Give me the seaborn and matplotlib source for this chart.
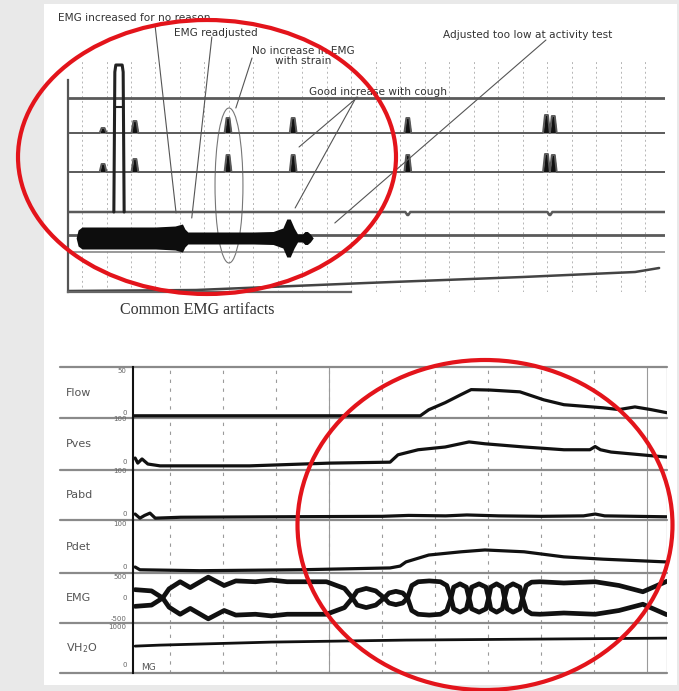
import numpy as np
import pandas as pd
import matplotlib
matplotlib.use("Agg")
import matplotlib.pyplot as plt
import seaborn as sns
from matplotlib.patches import Ellipse, Rectangle
import matplotlib.transforms as mtransforms

# ---------------- data ----------------
# upper tracing ("Common EMG artifacts"), time in s
spike_t = [4.3, 10.8, 29.8, 43.1, 66.5, 94.8, 96.2]
spike_h_ch2 = [5, 12, 15, 15, 15, 18, 17]
spike_h_ch3 = [8, 13, 17, 17, 17, 18, 17]
dip_t = [66.5, 95.5]
dip_h = [-3, -3]
artifact_t = [6.5, 6.7, 6.9, 8.2, 8.4, 8.6]
artifact_v = [0, 140, 147, 147, 140, 0]
artifact_bar_t = [6.7, 8.4]
artifact_bar_v = [105, 105]
blob_t = [-1.2, -0.8, 0, 5, 10, 15, 19, 20.5, 21.0, 21.6, 25, 30, 35, 39, 41.0, 41.8,
          42.5, 43.3, 44.0, 45.0, 45.5, 46.0, 46.6, 47.2]
blob_amp = [0, 8, 11, 11, 11, 11, 12, 14, 9, 6, 6, 6, 6, 6.5, 10, 19,
            19, 10, 4, 4, 6.5, 6.5, 4, 0]
vol_top_t = [-2.9, 23.3, 58, 90, 112.9, 117.8]
vol_top_v = [1, 2, 9, 15, 20, 24]

annotations = ["EMG increased for no reason", "EMG readjusted",
               "No increase in EMG\nwith strain", "Good increase with cough",
               "Adjusted too low at activity test"]
caption = "Common EMG artifacts"

# lower tracing (pressure-flow study)
channels = ["Flow", "Pves", "Pabd", "Pdet", "EMG", "VH$_2$O"]
scale_top = ["50", "100", "100", "100", "500", "1000"]
flow_t = [3, 57.2, 58.8, 61.9, 64.9, 66.8, 70.4, 76.0, 80.5, 84.3, 91.7, 94.7, 97.7, 100.7, 103.7]
flow_v = [0, 0, 6.8, 14.8, 23.9, 29.5, 29, 27, 18, 12.5, 9, 7, 10, 7, 3.5]
pves_t = [3.4, 3.9, 4.7, 5.8, 8.1, 25, 40.2, 51.5, 53.0, 56.8, 61.9, 66.4, 69.4, 76.8,
          84.3, 89.2, 90.2, 91.2, 93.2, 103.7]
pves_v = [16, 5, 14, 3, -1, -1, 5, 7, 23, 34, 40, 51, 47, 40, 34, 34, 41, 34, 29, 18]
pabd_t = [3.4, 4.3, 5.2, 6.2, 7.2, 12, 30, 50, 55, 62, 66, 72, 80, 88, 90.2, 92, 103.7]
pabd_v = [7, -2, 4, 9, -2, 0, 1, 2, 4, 3, 5, 3, 2, 3, 7, 3, 1]
pdet_t = [3.4, 4.3, 15.6, 34.5, 51.5, 53.4, 54.5, 58.8, 64.9, 69.4, 76.8, 84.3, 91.7, 103.7]
pdet_v = [6, 0, -2, 0, 4, 8, 17, 32, 39, 43, 39, 28, 23, 17]
emg_t = [3.4, 6.5, 8.6, 9.8, 11.9, 13.8, 17.2, 20.2, 22.4, 26.1, 29.1, 32.1, 35.8, 39.5,
         42.9, 44.4, 45.3, 47.0, 48.8, 50.4, 51.3, 52.6, 53.9, 54.8, 55.6, 56.8, 58.9,
         61.0, 62.2, 63.0, 63.5, 64.7, 65.9, 66.4, 66.9, 68.3, 69.6, 70.1, 70.5, 71.6,
         72.7, 73.1, 73.6, 74.7, 76.0, 76.5, 77.2, 78.2, 79.8, 84.3, 90.2, 94.7, 99.2, 103.7]
emg_v = [200, 170, 0, -220, -390, -250, -500, -300, -410, -390, -430, -390, -390, -390,
         -230, 0, 170, 230, 170, 0, -120, -160, -120, 0, 300, 390, 410,
         390, 300, 0, -260, -340, -260, 0, 260, 340, 260, 0, -260, -340,
         -260, 0, 260, 340, 260, 0, -300, -380, -390, -360, -390, -300, -150, -400]
vh2o_t = [3.4, 8, 29.1, 54.5, 103.7]
vh2o_v = [536, 560, 634, 683, 731]

# ---------------- figure ----------------
sns.set_theme(style="white")
plt.rcParams['font.family'] = ['DejaVu Sans']

W, H = 679, 691
fig = plt.figure(figsize=(W / 100, H / 100), dpi=100)
fig.patch.set_facecolor('#e9e9e9')
fig.add_artist(Rectangle((44 / W, 1 - 685 / H), (677 - 44) / W, (685 - 4) / H,
                         transform=fig.transFigure, facecolor='white',
                         edgecolor='none', zorder=-5))


def ax_px(x0, y0, x1, y1):
    a = fig.add_axes([x0 / W, 1 - y1 / H, (x1 - x0) / W, (y1 - y0) / H])
    a.patch.set_alpha(0)
    return a


def trace(ax, t, v, color='#111111', lw=2.5, offset=0.0, **kw):
    sns.lineplot(x=np.asarray(t, float), y=np.asarray(v, float) + offset, ax=ax,
                 color=color, linewidth=lw, estimator=None, sort=False,
                 legend=False, **kw)


def spikes(t_list, h_list, x0, x1, half_base=0.7, half_top=0.3):
    xs, ys = [x0], [0.0]
    for t0, h in zip(t_list, h_list):
        xs += [t0 - half_base, t0 - half_top, t0 + half_top, t0 + half_base]
        ys += [0, h, h, 0]
    xs.append(x1)
    ys.append(0.0)
    return np.array(xs), np.array(ys)


# ---------- upper panel ----------
T0, T1 = -2.86, 119
axt = ax_px(68, 10, 665, 292)
axt.set_xlim(T0, T1)
axt.set_ylim(0, 282)
for s in ['top', 'right']:
    axt.spines[s].set_visible(False)
axt.spines['left'].set_bounds(0, 212)
axt.spines['left'].set_color('#555555')
axt.spines['left'].set_linewidth(1.6)
axt.spines['bottom'].set_bounds(T0, 55)
axt.spines['bottom'].set_color('#666666')
axt.spines['bottom'].set_linewidth(1.6)
axt.set_xticks([])
axt.set_yticks([])
axt.vlines(np.arange(0, 116, 5), 0, 232, colors='#b5b5b5', linestyles=(0, (2, 3)),
           linewidth=0.7, zorder=0)

lvl = {'c1': 194, 'c2': 159, 'c3': 120, 'c4': 80, 'c5': 57, 'blob': 54, 'c6': 40}
grey = '#5a5a5a'
trace(axt, [T0, T1], [0, 0], color=grey, lw=2.0, offset=lvl['c1'])
for key, hs in (('c2', spike_h_ch2), ('c3', spike_h_ch3)):
    sx, sy = spikes(spike_t, hs, T0 + 0.3, T1)
    trace(axt, sx, sy, color=grey, lw=1.4, offset=lvl[key])
    axt.fill_between(sx, lvl[key], sy + lvl[key], color='#111111', lw=0)
dx, dy = spikes(dip_t, dip_h, T0, T1, 0.5, 0.1)
trace(axt, dx, dy, color=grey, lw=1.8, offset=lvl['c4'])
trace(axt, artifact_t, artifact_v, color='#222222', lw=2.2, offset=lvl['c4'])
trace(axt, artifact_bar_t, artifact_bar_v, color='#222222', lw=1.5, offset=lvl['c4'])
trace(axt, [T0, T1], [0, 0], color=grey, lw=2.0, offset=lvl['c5'])
trace(axt, [T0, T1], [0, 0], color='#888888', lw=1.2, offset=lvl['c6'])
bt = np.asarray(blob_t, float)
ba = np.asarray(blob_amp, float)
axt.fill_between(bt, lvl['blob'] - ba, lvl['blob'] + ba, color='#0d0d0d', lw=0, zorder=3)
trace(axt, vol_top_t, vol_top_v, color='#444444', lw=1.8)

tc = '#333333'
axt.text(-4.9, 274, annotations[0], fontsize=7.6, color=tc, va='center', ha='left')
axt.text(18.8, 259, annotations[1], fontsize=7.6, color=tc, va='center', ha='left')
axt.text(45.1, 236, annotations[2], fontsize=7.6, color=tc, va='center', ha='center',
         linespacing=1.0)
axt.text(46.3, 200, annotations[3], fontsize=7.6, color=tc, va='center', ha='left')
axt.text(73.7, 257, annotations[4], fontsize=7.6, color=tc, va='center', ha='left')
lines = [((14.9, 267), (19.2, 79)), ((26.5, 255), (22.4, 74)), ((34.7, 234), (31.4, 184)),
         ((56.3, 195), (44.3, 145)), ((56.0, 195), (43.5, 84)), ((94.7, 252), (51.6, 69))]
for start, end in lines:
    axt.annotate('', xy=end, xytext=start,
                 arrowprops=dict(arrowstyle='-', color='#555555', lw=0.8,
                                 shrinkA=0, shrinkB=0))
axt.add_patch(Ellipse((30.0, 106.5), 5.7, 155, fill=False, edgecolor='#777777', lw=0.8))

fig.text(120 / W, 1 - 310 / H, caption, family='Liberation Serif', fontsize=11.5,
         color='#333333', va='center', ha='left')

# ---------- lower panel ----------
bands = [367, 418, 470, 520, 573, 623, 673]
ylims = [(-2.5, 55), (-10, 103), (-6, 103), (-7, 108), (-600, 600), (-120, 1100)]
series = [(flow_t, flow_v), (pves_t, pves_v), (pabd_t, pabd_v), (pdet_t, pdet_v),
          (emg_t, emg_v), (vh2o_t, vh2o_v)]
BX0, BX1 = 133, 667
XL = (3, 3 + (BX1 - BX0) / 5.3)
for i, name in enumerate(channels):
    ax = ax_px(BX0, bands[i], BX1, bands[i + 1])
    ax.set_xlim(*XL)
    ax.set_ylim(*ylims[i])
    ax.set_xticks([])
    ax.set_yticks([])
    for s in ['top', 'bottom', 'right']:
        ax.spines[s].set_visible(False)
    ax.spines['left'].set_color('#111111')
    ax.spines['left'].set_linewidth(1.5)
    ax.vlines(np.arange(10, 100, 10), *ylims[i], colors='#9a9a9a',
              linestyles=(0, (3, 5)), linewidth=0.8, zorder=0)
    ax.vlines([40, 100], *ylims[i], colors='#9a9a9a', linewidth=0.8, zorder=0)
    ax.plot([1, 1], [0, 1], transform=ax.transAxes, color='#aaaaaa', lw=0.9)
    # separators extending to the labels
    ax.plot([(60 - BX0) / (BX1 - BX0), 1], [0, 0], transform=ax.transAxes,
            clip_on=False, color='#8a8a8a', lw=1.6)
    if i == 0:
        ax.plot([(60 - BX0) / (BX1 - BX0), 1], [1, 1], transform=ax.transAxes,
                clip_on=False, color='#8a8a8a', lw=1.6)
    t, v = series[i]
    if name == "EMG":
        vv = np.asarray(v, float)
        trace(ax, t, vv, lw=3.4)
        trace(ax, t, -vv, lw=3.4)
    else:
        trace(ax, t, v, lw=2.3 if i < 4 else 2.0)
    ax.set_xlabel('')
    ax.set_ylabel('')
    ax.text((66 - BX0) / (BX1 - BX0), 0.5, name, transform=ax.transAxes,
            fontsize=8, color='#555555', va='center', ha='left')
    blend = mtransforms.blended_transform_factory(ax.transAxes, ax.transData)
    top_val = float(scale_top[i])
    ax.text(-0.012, top_val, scale_top[i], transform=blend, fontsize=5, color='#666666',
            ha='right', va='center')
    if name == "EMG":
        ax.text(-0.012, 0, "0", transform=blend, fontsize=5, color='#666666',
                ha='right', va='center')
        ax.text(-0.012, -top_val, "-" + scale_top[i], transform=blend, fontsize=5,
                color='#666666', ha='right', va='center')
    else:
        ax.text(-0.012, 0, "0", transform=blend, fontsize=5, color='#666666',
                ha='right', va='bottom')
    if i == 5:
        ax.text(4.5, 25, "MG", fontsize=6.5, color='#555555', va='center', ha='left')

# ---------- red circles ----------
fig.add_artist(Ellipse((207 / W, 1 - 157 / H), 378 / W, 274 / H, transform=fig.transFigure,
                       fill=False, edgecolor='#e3141b', lw=3.0, zorder=20))
fig.add_artist(Ellipse((485 / W, 1 - 525 / H), 375 / W, 330 / H, transform=fig.transFigure,
                       fill=False, edgecolor='#e3141b', lw=3.0, zorder=20))

fig.savefig("out.png", dpi=100, facecolor=fig.get_facecolor())
